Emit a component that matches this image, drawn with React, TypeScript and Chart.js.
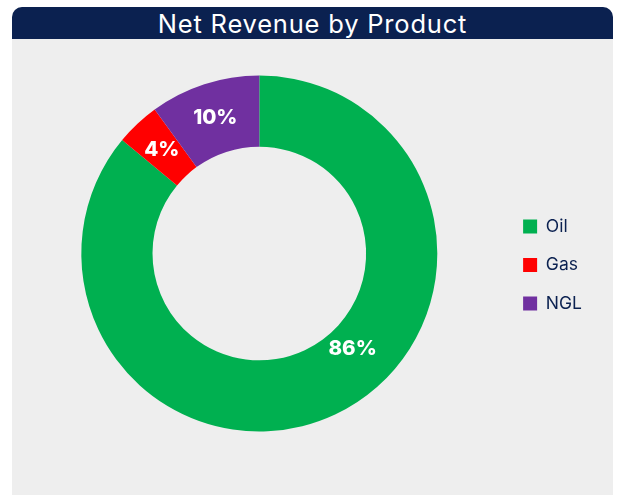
import React, { useEffect, useRef } from "react";
import { Chart, registerables } from "chart.js";

Chart.register(...registerables);

const categories = ["Oil", "Gas", "NGL"];
const shares = [86, 4, 10];
const sliceColors = ["#00b050", "#ff0000", "#7030a0"];
const titleText = "Net Revenue by Product";

const FONT = "Inter, 'Open Sans', sans-serif";
const NAVY = "#0b2150";

const sliceLabelPlugin = {
  id: "sliceLabels",
  afterDatasetsDraw(chart: any, _args: any, opts: any) {
    const meta = chart.getDatasetMeta(0);
    const ctx = chart.ctx;
    ctx.save();
    ctx.fillStyle = opts.color;
    ctx.font = opts.font;
    ctx.textAlign = "center";
    ctx.textBaseline = "middle";
    meta.data.forEach((arc: any, i: number) => {
      const p = arc.getProps(
        ["startAngle", "endAngle", "innerRadius", "outerRadius", "x", "y"],
        true
      );
      const f = opts.anglePos[i] ?? 0.5;
      const a = p.startAngle + (p.endAngle - p.startAngle) * f;
      const r = (p.innerRadius + p.outerRadius) / 2 + (opts.radialShift[i] ?? 0);
      const v = chart.data.datasets[0].data[i];
      ctx.fillText(`${v}%`, p.x + Math.cos(a) * r, p.y + Math.sin(a) * r);
    });
    ctx.restore();
  },
};

export default function App() {
  const canvasRef = useRef<HTMLCanvasElement | null>(null);

  useEffect(() => {
    if (!canvasRef.current) return;
    const chart = new Chart(canvasRef.current, {
      type: "doughnut",
      data: {
        labels: categories,
        datasets: [
          {
            data: shares,
            backgroundColor: sliceColors,
            borderWidth: 0,
          },
        ],
      },
      options: {
        responsive: false,
        animation: false,
        cutout: "60%",
        layout: { padding: { top: 36.5, bottom: 63.5, left: 4.5, right: 21 } },
        plugins: {
          tooltip: { enabled: false },
          legend: {
            display: true,
            position: "right",
            align: "center",
            title: {
              display: true,
              text: " ",
              color: "rgba(0,0,0,0)",
              font: { size: 10, family: FONT },
              padding: { top: 5.5, bottom: 5.5 },
            },
            labels: {
              boxWidth: 14,
              boxHeight: 14,
              padding: 21,
              color: NAVY,
              font: { size: 17.5, family: FONT },
            },
          },
          sliceLabels: {
            color: "#ffffff",
            font: `800 20.5px ${FONT}`,
            anglePos: [0.438, 0.5, 0.5],
            radialShift: [-9, 0, 0],
          },
        } as any,
      },
      plugins: [sliceLabelPlugin],
    });
    return () => chart.destroy();
  }, []);

  return (
    <div
      style={{
        position: "absolute",
        left: 0,
        top: 0,
        width: 623,
        height: 498,
        background: "#ffffff",
      }}
    >
      <div
        style={{
          position: "absolute",
          left: 12,
          top: 7,
          width: 601,
          height: 488,
          background: "#eeeeee",
          borderRadius: "10px 10px 0 0",
          overflow: "hidden",
        }}
      >
        <div
          style={{
            height: 32,
            background: NAVY,
            color: "#ffffff",
            fontFamily: FONT,
            fontSize: 25.5,
            letterSpacing: "0.8px",
            lineHeight: "33px",
            textAlign: "center",
            whiteSpace: "nowrap",
          }}
        >
          {titleText}
        </div>
        <canvas
          ref={canvasRef}
          width={601}
          height={456}
          style={{ display: "block", width: 601, height: 456 }}
        />
      </div>
    </div>
  );
}
